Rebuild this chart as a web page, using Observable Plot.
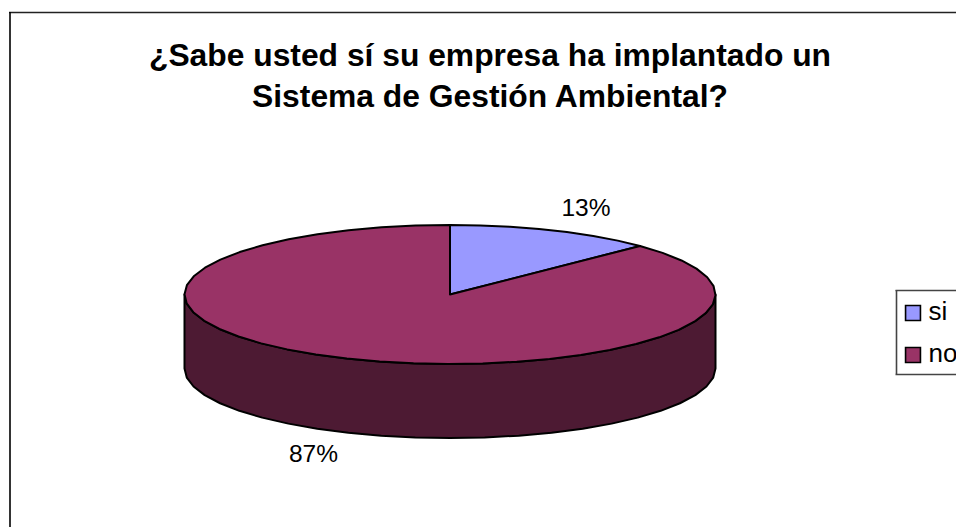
<!DOCTYPE html>
<html lang="es">
<head>
<meta charset="utf-8">
<script src="https://cdn.jsdelivr.net/npm/d3@7"></script>
<script src="https://cdn.jsdelivr.net/npm/@observablehq/plot@0.6"></script>
<style>
html,body{margin:0;padding:0;background:#fff;overflow:hidden}
svg{display:block}
</style>
</head>
<body>
<div id="chart"></div>
<script>
const categories = ["si", "no"];
const shares = [12.7, 87.3];
const sliceColors = ["#9999FF", "#993366"];
const titleLines = ["¿Sabe usted sí su empresa ha implantado un", "Sistema de Gestión Ambiental?"];

const W = 956, H = 527;
const cx = 450, cy = 294.5, rx = 265.5, ry = 69.5, depth = 74;
const sideColor = "#4D1A33";
const font = "'Liberation Sans', Arial, sans-serif";

function arc(a0, a1) {
  const n = Math.max(2, Math.ceil((a1 - a0) / 7.5));
  return d3.range(n + 1).map(i => {
    const a = (a0 + (a1 - a0) * i / n) * Math.PI / 180;
    return {x: cx + rx * Math.sin(a), y: cy - ry * Math.cos(a)};
  });
}

let acc = 0;
const sectors = categories.flatMap((c, i) => {
  const a0 = acc * 3.6; acc += shares[i];
  return arc(a0, acc * 3.6).map(p => ({...p, category: c}));
});
const side = arc(90, 270);

const labels = [
  {text: Math.round(shares[0]) + "%", x: 585.5, y: 208},
  {text: Math.round(shares[1]) + "%", x: 313, y: 454}
];
const legend = categories.map((c, i) => ({category: c, y: 312.5 + i * 42}));

const chart = Plot.plot({
  width: W, height: H,
  margin: 0,
  style: {background: "#fff", fontFamily: font},
  x: {domain: [0, W], range: [0, W], axis: null},
  y: {domain: [0, H], range: [0, H], axis: null},
  color: {domain: categories, range: sliceColors},
  marks: [
    // chart-area border (cut by the page at right and bottom)
    Plot.ruleY([12], {x1: 9, x2: W, stroke: "#222", strokeWidth: 1.6}),
    Plot.ruleX([9.5], {y1: 12, y2: H, stroke: "#000", strokeWidth: 1.6}),
    // title
    Plot.text(titleLines, {
      x: 489.5, y: (d, i) => 55 + i * 41.5,
      text: d => d, fontSize: 31.8, fontWeight: "bold", fill: "#000", fontFamily: font
    }),
    // pie wall
    Plot.area(side, {
      x1: "x", y1: "y", x2: "x", y2: d => d.y + depth,
      fill: sideColor, stroke: "#000", strokeWidth: 2
    }),
    // pie top
    Plot.area(sectors, {
      x1: "x", y1: "y", x2: () => cx, y2: () => cy,
      fill: "category", stroke: "#000", strokeWidth: 2, strokeLinejoin: "round"
    }),
    // value labels
    Plot.text(labels, {
      x: "x", y: "y", text: "text", fontSize: 24.5, fill: "#000", fontFamily: font
    }),
    // legend box
    Plot.ruleY([290, 374], {x1: 895.5, x2: W, stroke: "#444", strokeWidth: 1.6}),
    Plot.ruleX([896], {y1: 290, y2: 374, stroke: "#444", strokeWidth: 1.6}),
    Plot.dot(legend, {
      x: 912.5, y: "y", symbol: "square", r: 8.4,
      fill: "category", stroke: "#000", strokeWidth: 1.6
    }),
    Plot.text(legend, {
      x: 928, y: d => d.y - 1, text: "category", textAnchor: "start",
      fontSize: 26, fill: "#000", fontFamily: font
    })
  ]
});
document.getElementById("chart").appendChild(chart);
</script>
</body>
</html>
